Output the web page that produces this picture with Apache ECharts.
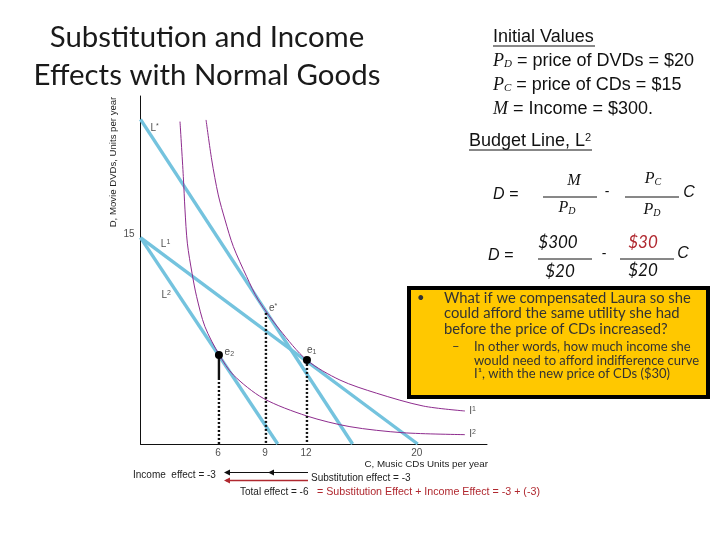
<!DOCTYPE html>
<html>
<head>
<meta charset="utf-8">
<style>
  html, body { margin: 0; padding: 0; background: #fff; }
  #chart { width: 720px; height: 540px; }
</style>
<script src="https://cdn.jsdelivr.net/npm/echarts@6/dist/echarts.min.js"></script>
</head>
<body>
<div id="chart"></div>
<script>
// budget lines, [C, D]
var budgetL1 = [[0, 15], [20, 0]];
var budgetL2 = [[0, 15], [9.9, 0]];
var budgetLstar = [[0, 23.6], [15.3, 0]];
// indifference curves
var curveI1 = [[4.73, 23.56], [5.14, 20.65], [5.61, 18.11], [6.1, 16.29], [6.7, 14.35], [7.66, 12.17], [8.5, 10.47], [10.06, 8.29], [11.99, 6.11], [14.39, 4.65], [17.04, 3.69], [20.4, 2.76], [23.41, 2.4]];
var curveI2 = [[2.85, 23.44], [3.09, 19.44], [3.21, 17.02], [3.38, 14.6], [3.72, 12.41], [4.05, 10.71], [4.65, 8.53], [5.69, 6.47], [6.7, 5.02], [8.86, 3.32], [11.99, 2.04], [15.11, 1.26], [18.94, 0.82], [23.41, 0.68]];
// optimum points
var pointsE = [[5.66, 6.47], [12.01, 6.11]];
var pointStar = [9.05, 9.53];
// tick labels
var xTicks = [[5.66, 0, '6'], [9.05, 0, '9'], [12.01, 0, '12'], [20, 0, '20']];
var yTicks = [[0, 15, '15']];
// names next to lines and points
var markNames = [
  [0.5, 22.95, '{n|L}{s|*}'],
  [1.25, 14.55, '{n|L}{s|1}'],
  [1.3, 10.85, '{n|L}{s|2}'],
  [23.5, 2.4, '{n|I}{s|1}'],
  [23.5, 0.73, '{n|I}{s|2}'],
  [9.05, 9.85, '{n|e}{s|*}'],
  [11.8, 6.85, '{n|e}{d|1}'],
  [5.85, 6.7, '{n|e}{d|2}']
];

var black = '#111', blue = '#74C3DE', purple = '#8E2C8E', red = '#B0282F';
var arial = '"Liberation Sans", Arial, sans-serif';
var lato = 'Lato, sans-serif';

function budget(data, w) {
  return { type: 'line', data: data, symbol: 'none', z: 2, lineStyle: { color: blue, width: w } };
}
function curve(data) {
  return { type: 'line', data: data, symbol: 'none', smooth: 0.3, z: 3, lineStyle: { color: purple, width: 1 } };
}
function drop(data, type) {
  return { type: 'line', data: data, symbol: 'none', z: 4, lineStyle: { color: black, width: 2.4, type: type } };
}
function labels(data, pos, offset) {
  return {
    type: 'scatter', data: data, symbolSize: 0, z: 6,
    label: {
      show: true, position: pos, distance: 3, offset: offset || [0, 0],
      formatter: function (p) { return p.data[2]; },
      fontFamily: arial, fontSize: 10, color: '#222',
      rich: {
        n: { fontFamily: arial, fontSize: 10, color: '#222' },
        s: { fontFamily: arial, fontSize: 7, color: '#222', verticalAlign: 'top', padding: [0, 0, 4, 0] },
        d: { fontFamily: arial, fontSize: 7, color: '#222', verticalAlign: 'bottom', padding: [4, 0, 0, 0] }
      }
    }
  };
}

function txt(x, y, text, size, opt) {
  opt = opt || {};
  return {
    type: 'text', z: 20, x: x, y: y,
    style: {
      text: text, fontSize: size, fontFamily: opt.font || arial, fontStyle: opt.italic ? 'italic' : 'normal',
      fill: opt.fill || '#111', align: opt.align || 'left', verticalAlign: 'middle', rich: opt.rich
    }
  };
}
function rule(x1, y1, x2, y2, color, w) {
  return { type: 'line', z: 20, shape: { x1: x1, y1: y1, x2: x2, y2: y2 }, style: { stroke: color || '#111', lineWidth: w || 1 } };
}
function arrow(x, y, color) {
  return { type: 'polygon', z: 20, shape: { points: [[x, y], [x + 6, y - 3], [x + 6, y + 3]] }, style: { fill: color } };
}

var mathRich = {
  t: { fontFamily: arial, fontSize: 18, color: '#111' },
  i: { fontFamily: '"Liberation Serif", serif', fontStyle: 'italic', fontSize: 18, color: '#111' },
  d: { fontFamily: '"Liberation Serif", serif', fontStyle: 'italic', fontSize: 11, color: '#111', verticalAlign: 'bottom', padding: [6, 0, 0, 0] },
  u: { fontFamily: arial, fontSize: 11, color: '#111', verticalAlign: 'top', padding: [0, 0, 6, 0] }
};
var fracRich = {
  i: { fontFamily: '"Liberation Serif", serif', fontStyle: 'italic', fontSize: 16, color: '#111' },
  d: { fontFamily: '"Liberation Serif", serif', fontStyle: 'italic', fontSize: 10, color: '#111', verticalAlign: 'bottom', padding: [6, 0, 0, 0] }
};

var notes = [
  // title
  txt(207, 38, 'Substitution and Income', 29.4, { font: lato, align: 'center', fill: '#1a1a1a' }),
  txt(207, 76, 'Effects with Normal Goods', 29.4, { font: lato, align: 'center', fill: '#1a1a1a' }),
  // axis names
  { type: 'text', z: 20, x: 113, y: 162, rotation: Math.PI / 2, style: { text: 'D, Movie DVDs, Units per year', fontSize: 9.6, fontFamily: arial, fill: '#222', align: 'center', verticalAlign: 'middle' } },
  txt(488, 464, 'C, Music CDs Units per year', 9.8, { align: 'right', fill: '#222' }),
  // effects under the axis
  txt(133, 475, 'Income  effect = -3', 10, { fill: '#222' }),
  rule(226, 472.5, 308, 472.5, '#111', 1),
  arrow(224, 472.5, '#111'),
  arrow(268, 472.5, '#111'),
  rule(226, 480.5, 308, 480.5, red, 1.4),
  arrow(224, 480.5, red),
  txt(311, 478, 'Substitution effect = -3', 10, { fill: '#222' }),
  txt(240, 492.5, 'Total effect = -6', 10, { fill: '#222' }),
  txt(317, 492.5, '= Substitution Effect + Income Effect = -3 + (-3)', 10.7, { fill: red }),
  // initial values
  txt(493, 37, 'Initial Values', 18),
  rule(493, 46, 595, 46),
  txt(493, 61, '{i|P}{d|D}{t| = price of DVDs = $20}', 18, { rich: mathRich }),
  txt(493, 85, '{i|P}{d|C}{t| = price of CDs = $15}', 18, { rich: mathRich }),
  txt(493, 109, '{i|M}{t| = Income = $300.}', 18, { rich: mathRich }),
  // budget line
  txt(469, 141, '{t|Budget Line, L}{u|2}', 18, { rich: mathRich }),
  rule(469, 150, 592, 150),
  // first equation
  txt(493, 195, 'D =', 16, { font: '"Liberation Sans"', italic: true }),
  txt(574, 181, '{i|M}', 16, { rich: fracRich, align: 'center' }),
  rule(543, 197, 597, 197),
  txt(567, 208, '{i|P}{d|D}', 16, { rich: fracRich, align: 'center' }),
  txt(607, 192, '-', 14, { align: 'center' }),
  txt(653, 179, '{i|P}{d|C}', 16, { rich: fracRich, align: 'center' }),
  rule(625, 197, 679, 197),
  txt(652, 210, '{i|P}{d|D}', 16, { rich: fracRich, align: 'center' }),
  txt(689, 193, 'C', 16, { font: '"Liberation Sans"', italic: true, align: 'center' }),
  // second equation
  txt(488, 256, 'D =', 16, { font: '"Liberation Sans"', italic: true }),
  txt(558, 243, '$300', 17, { font: lato, italic: true, align: 'center' }),
  rule(538, 259, 592, 259),
  txt(560, 272, '$20', 17, { font: lato, italic: true, align: 'center' }),
  txt(604, 254, '-', 14, { align: 'center' }),
  txt(643, 243, '$30', 17, { font: lato, italic: true, align: 'center', fill: '#B0282F' }),
  rule(620, 259, 674, 259),
  txt(643, 271, '$20', 17, { font: lato, italic: true, align: 'center' }),
  txt(683, 254, 'C', 16, { font: '"Liberation Sans"', italic: true, align: 'center' }),
  // orange box
  { type: 'rect', z: 15, shape: { x: 409, y: 288, width: 299, height: 109 }, style: { fill: '#FFC800', stroke: '#000', lineWidth: 4 } },
  txt(417, 298, '\u2022', 13, { font: lato, fill: '#333' }),
  txt(444, 298, 'What if we compensated Laura so she', 14.8, { font: lato, fill: '#333' }),
  txt(444, 313, 'could afford the same utility she had', 14.8, { font: lato, fill: '#333' }),
  txt(444, 329, 'before the price of CDs increased?', 14.8, { font: lato, fill: '#333' }),
  txt(452, 347, '\u2013', 13, { font: lato, fill: '#333' }),
  txt(474, 347, 'In other words, how much income she', 13, { font: lato, fill: '#333' }),
  txt(474, 360.5, 'would need to afford indifference curve', 13, { font: lato, fill: '#333' }),
  txt(474, 373.5, 'I\u00B9, with the new price of CDs ($30)', 13, { font: lato, fill: '#333' })
];

var chart = echarts.init(document.getElementById('chart'), null, { renderer: 'canvas' });
chart.setOption({
  animation: false,
  backgroundColor: '#fff',
  grid: { left: 140.5, top: 96, width: 346.5, height: 348 },
  xAxis: {
    type: 'value', min: 0, max: 25,
    axisLine: { show: true, onZero: false, lineStyle: { color: '#111', width: 1 } },
    axisTick: { show: false }, axisLabel: { show: false }, splitLine: { show: false }
  },
  yAxis: {
    type: 'value', min: 0, max: 25.3,
    axisLine: { show: true, onZero: false, lineStyle: { color: '#111', width: 1 } },
    axisTick: { show: false }, axisLabel: { show: false }, splitLine: { show: false }
  },
  series: [
    budget(budgetL1, 3.4),
    budget(budgetL2, 3.4),
    budget(budgetLstar, 3.4),
    curve(curveI1),
    curve(curveI2),
    drop([pointsE[0], [pointsE[0][0], 4.8]], 'solid'),
    drop([[pointsE[0][0], 4.8], [pointsE[0][0], 0]], [2, 2]),
    drop([pointsE[1], [pointsE[1][0], 0]], [2, 2]),
    drop([pointStar, [pointStar[0], 0]], [2, 2]),
    { type: 'scatter', data: pointsE, symbolSize: 8, z: 5, itemStyle: { color: '#000', opacity: 1 } },
    labels(xTicks, 'bottom', [-1, 1]),
    labels(yTicks, 'left', [-3, -3]),
    labels(markNames, 'right')
  ],
  graphic: notes
});
</script>
</body>
</html>
